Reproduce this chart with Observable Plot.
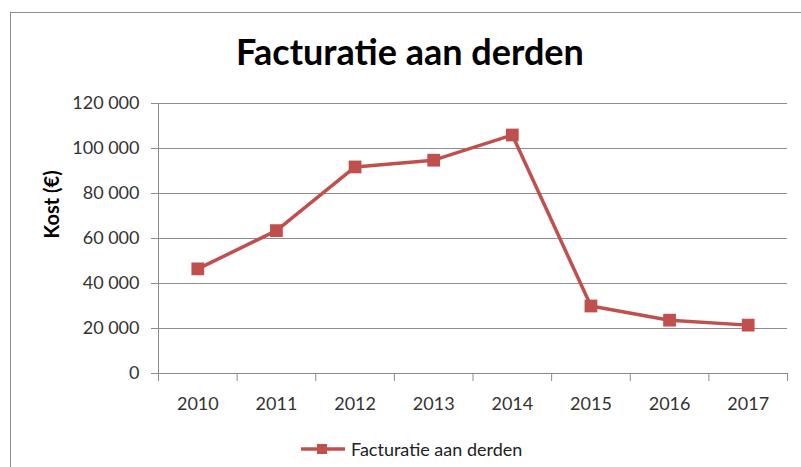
<!DOCTYPE html>
<html>
<head>
<meta charset="utf-8">
<script src="https://cdn.jsdelivr.net/npm/d3@7"></script>
<script src="https://cdn.jsdelivr.net/npm/@observablehq/plot@0.6"></script>
<style>
  html, body { margin: 0; padding: 0; background: #fff; }
  #chart { position: relative; width: 801px; height: 467px; overflow: hidden; font-family: "Lato", "Open Sans", sans-serif; }
  #frame { position: absolute; left: 10px; top: 12px; width: 900px; height: 600px; border-left: 1px solid #8c8c8c; border-top: 1px solid #8c8c8c; }
  #title { position: absolute; left: 0; width: 820px; top: 29px; text-align: center; font-size: 36px; font-weight: 700; color: #000; line-height: 44px; }
  #plot { position: absolute; left: 0; top: 90px; }
  #legend { position: absolute; left: 300px; top: 438px; display: flex; align-items: center; font-size: 18px; color: #222; }
  #legend svg { display: block; margin-right: 5px; }
</style>
</head>
<body>
<div id="chart">
  <div id="frame"></div>
  <div id="title"></div>
  <div id="plot"></div>
  <div id="legend"></div>
</div>
<script>
const title = "Facturatie aan derden";
const yLabel = "Kost (€)";
const seriesName = "Facturatie aan derden";
const years = ["2010", "2011", "2012", "2013", "2014", "2015", "2016", "2017"];
const values = [46500, 63500, 91800, 94800, 106000, 30000, 23700, 21500];
const yTicks = [0, 20000, 40000, 60000, 80000, 100000, 120000];
const lineColor = "#c0504d";
const gridColor = "#8c8c8c";

const data = years.map((year, i) => ({i, year, value: values[i]}));
const fmt = d => d3.format(",")(d).replace(/,/g, " ");

document.getElementById("title").textContent = title;

const chart = Plot.plot({
  width: 801,
  height: 333,
  marginLeft: 158,
  marginRight: 14,
  marginTop: 13,
  marginBottom: 50,
  style: {fontFamily: "Lato, 'Open Sans', sans-serif", fontSize: "18px", color: "#333", background: "transparent"},
  x: {type: "linear", domain: [-0.5, years.length - 0.5]},
  y: {domain: [0, 120000]},
  marks: [
    Plot.ruleY(yTicks, {stroke: gridColor, strokeWidth: 1}),
    Plot.axisY({ticks: yTicks, tickSize: 7, tickPadding: 12, tickFormat: fmt, stroke: gridColor, fill: "#333", label: null}),
    Plot.ruleX([-0.5], {y1: 0, y2: 120000, stroke: gridColor}),
    Plot.axisX({ticks: d3.range(-0.5, years.length, 1), tickSize: 8, tickFormat: () => "", stroke: gridColor, label: null}),
    Plot.axisX({ticks: d3.range(years.length), tickSize: 0, tickPadding: 24, tickFormat: i => years[i], fill: "#333", label: null}),
    Plot.text([yLabel], {frameAnchor: "left", dx: -106, rotate: -90, fontWeight: "bold", fontSize: 20, fill: "#000"}),
    Plot.line(data, {x: "i", y: "value", stroke: lineColor, strokeWidth: 3.5}),
    Plot.dot(data, {x: "i", y: "value", symbol: "square", r: 7.2, fill: lineColor, stroke: "none"})
  ]
});
document.getElementById("plot").appendChild(chart);

const legend = document.getElementById("legend");
legend.innerHTML = `<svg width="46" height="14"><line x1="1" x2="45" y1="7" y2="7" stroke="${lineColor}" stroke-width="3.5"/><rect x="17" y="2" width="10" height="10" fill="${lineColor}"/></svg><span></span>`;
legend.querySelector("span").textContent = seriesName;
</script>
</body>
</html>
